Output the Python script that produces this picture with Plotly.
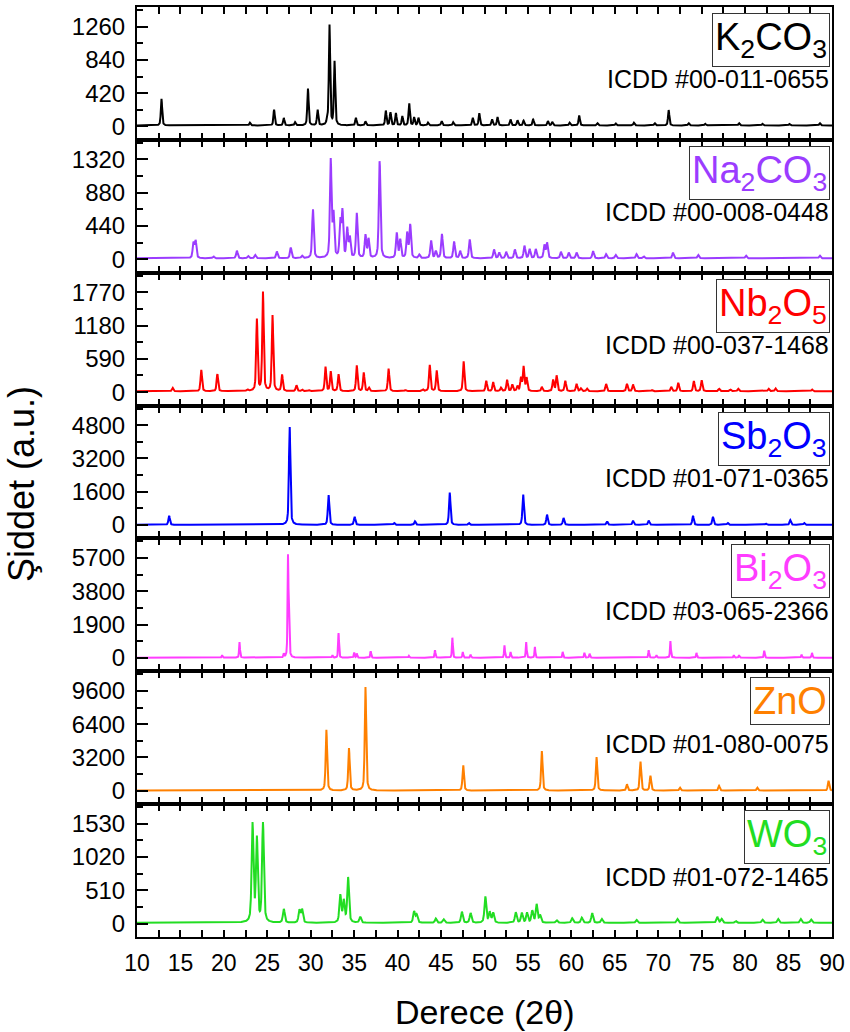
import numpy as np
import plotly.graph_objects as go
from plotly.subplots import make_subplots

# ---------------- data (peak positions in 2theta and peak heights) -------------
two_theta = np.round(np.arange(10, 90.0001, 0.02), 3)

names = ["K2CO3", "Na2CO3", "Nb2O5", "Sb2O3", "Bi2O3", "ZnO", "WO3"]
labels = ["K<sub>2</sub>CO<sub>3</sub>", "Na<sub>2</sub>CO<sub>3</sub>", "Nb<sub>2</sub>O<sub>5</sub>",
          "Sb<sub>2</sub>O<sub>3</sub>", "Bi<sub>2</sub>O<sub>3</sub>", "ZnO", "WO<sub>3</sub>"]
icdd = ["ICDD #00-011-0655", "ICDD #00-008-0448", "ICDD #00-037-1468", "ICDD #01-071-0365",
        "ICDD #03-065-2366", "ICDD #01-080-0075", "ICDD #01-072-1465"]
y_ticks = [[0, 420, 840, 1260], [0, 440, 880, 1320], [0, 590, 1180, 1770], [0, 1600, 3200, 4800],
           [0, 1900, 3800, 5700], [0, 3200, 6400, 9600], [0, 510, 1020, 1530]]
x_ticks = [10, 15, 20, 25, 30, 35, 40, 45, 50, 55, 60, 65, 70, 75, 80, 85, 90]

k2co3_pos = [12.82, 23.0, 25.78, 26.89, 28.2, 29.68, 30.79, 31.9, 32.16, 32.74, 35.2, 36.3, 38.64, 39.17,
             39.8, 40.54, 41.33, 41.9, 42.4, 43.5, 45.07, 46.4, 48.65, 49.4, 50.87, 51.5, 53.0, 53.8,
             54.5, 55.6, 57.3, 57.8, 59.8, 60.9, 63.0, 65.1, 67.2, 69.6, 71.2, 73.5, 75.4, 79.3, 82.0,
             85.1, 88.6]
k2co3_int = [335, 35, 200, 95, 40, 465, 195, 50, 1260, 800, 95, 50, 185, 165, 155, 115, 280, 100, 95, 35,
             55, 40, 95, 155, 75, 105, 75, 65, 60, 75, 55, 45, 35, 125, 28, 25, 35, 28, 195, 28, 20, 28,
             20, 18, 28]

na2co3_pos = [16.5, 16.75, 18.8, 21.5, 22.8, 23.6, 26.1, 27.7, 29.0, 30.25, 32.3, 32.62, 33.4, 33.65,
              34.2, 34.5, 35.3, 36.3, 36.65, 37.93, 39.9, 40.3, 41.1, 41.45, 42.5, 43.85, 44.4, 45.1,
              46.5, 47.2, 48.3, 51.1, 51.7, 52.5, 53.5, 54.6, 55.2, 55.9, 56.9, 57.2, 58.8, 59.7, 60.6,
              62.5, 64.0, 65.1, 67.5, 68.3, 71.7, 74.6, 80.1, 88.6]
na2co3_int = [200, 225, 25, 100, 30, 45, 90, 140, 30, 650, 1290, 560, 470, 600, 380, 260, 590, 300, 250,
              1290, 330, 240, 330, 440, 45, 235, 90, 320, 220, 95, 250, 115, 75, 85, 115, 165, 120, 120,
              170, 200, 85, 75, 75, 95, 55, 45, 55, 28, 75, 45, 35, 35]

nb2o5_pos = [14.1, 17.4, 19.25, 22.7, 23.8, 24.5, 25.6, 26.7, 28.35, 29.0, 29.8, 31.7, 32.3, 33.2, 35.3,
             36.1, 36.7, 38.96, 40.9, 42.9, 43.7, 44.5, 47.6, 50.2, 51.0, 51.9, 52.6, 53.2, 53.8, 54.2,
             54.5, 54.85, 56.6, 57.9, 58.3, 59.3, 60.6, 61.1, 61.8, 64.0, 66.4, 67.1, 69.3, 71.5, 72.3,
             74.1, 75.0, 77.0, 78.3, 79.2, 82.7, 83.5, 87.7]
nb2o5_int = [60, 380, 305, 30, 1270, 1750, 1340, 290, 105, 30, 20, 430, 350, 300, 455, 330, 60, 400, 20,
             30, 465, 365, 530, 185, 160, 60, 200, 115, 85, 230, 430, 230, 75, 200, 275, 185, 130, 50, 45,
             130, 130, 120, 20, 75, 150, 180, 195, 45, 30, 45, 45, 50, 30]

sb2o3_pos = [13.7, 27.57, 32.05, 35.05, 39.6, 42.0, 46.0, 48.2, 54.45, 57.2, 59.1, 64.1, 67.1, 68.9,
             74.0, 76.3, 78.0, 82.4, 85.2, 86.8]
sb2o3_int = [440, 4750, 1440, 390, 90, 170, 1550, 90, 1470, 490, 330, 170, 200, 200, 440, 380, 90, 60,
             235, 90]

bi2o3_pos = [19.8, 21.8, 26.9, 27.38, 27.5, 32.5, 33.2, 35.0, 35.3, 36.9, 41.3, 44.3, 46.3, 47.5, 48.4,
             52.3, 53.0, 54.8, 55.8, 59.0, 61.5, 62.1, 68.9, 69.8, 71.4, 74.4, 78.7, 79.3, 82.2, 86.5, 87.7]
bi2o3_int = [140, 890, 200, 5600, 2300, 140, 1400, 290, 230, 370, 105, 420, 1140, 330, 180, 700, 330, 890,
             610, 330, 275, 220, 420, 145, 950, 275, 145, 145, 390, 180, 275]

zno_pos = [31.8, 34.4, 36.3, 47.55, 56.6, 62.9, 66.4, 67.95, 69.1, 72.5, 77.0, 81.4, 89.6]
zno_int = [5850, 4080, 9950, 2440, 3800, 3230, 600, 2800, 1420, 280, 470, 280, 950]

wo3_pos = [23.3, 23.8, 24.5, 26.9, 28.7, 29.0, 33.4, 33.8, 34.3, 35.7, 41.9, 42.2, 44.4, 45.3, 47.4, 48.4,
           50.1, 50.6, 51.0, 53.6, 54.3, 54.9, 55.5, 56.0, 56.4, 58.3, 60.1, 61.2, 62.4, 63.5, 67.5, 72.2,
           76.8, 77.3, 78.9, 82.0, 83.8, 86.4, 87.6]
wo3_int = [1500, 1270, 1520, 210, 190, 200, 420, 330, 690, 90, 170, 120, 65, 55, 170, 150, 400, 160, 150,
           160, 150, 150, 180, 280, 110, 40, 70, 80, 150, 60, 45, 60, 90, 60, 30, 50, 60, 60, 50]

peak_pos = [k2co3_pos, na2co3_pos, nb2o5_pos, sb2o3_pos, bi2o3_pos, zno_pos, wo3_pos]
peak_int = [k2co3_int, na2co3_int, nb2o5_int, sb2o3_int, bi2o3_int, zno_int, wo3_int]
baselines = [12, 12, 15, 5, 8, 10, 10]

# ---------------- styles ----------------
colors = ["#000000", "#9B3CFF", "#FF0000", "#0000FF", "#FF3CFF", "#FF8000", "#22DD22"]
label_colors = ["#000000", "#9B3CFF", "#FF0000", "#0000FF", "#FF3CFF", "#FF8000", "#22DD22"]
fwhm = [0.18, 0.22, 0.2, 0.2, 0.12, 0.2, 0.25]


def profile(pos, inten, w, base):
    y = np.full_like(two_theta, float(base))
    for p, h in zip(pos, inten):
        d = (two_theta - p) / w
        y += h * (0.5 * np.exp(-4 * np.log(2) * d ** 2) + 0.5 / (1 + 4 * d ** 2))
    return y


n = len(names)
fig = make_subplots(rows=n, cols=1, shared_xaxes=True, vertical_spacing=0)

FONT = "Liberation Sans, Arial, sans-serif"
annotations = []
for i in range(n):
    y = profile(peak_pos[i], peak_int[i], fwhm[i], baselines[i])
    fig.add_trace(go.Scatter(x=two_theta, y=y, mode="lines", line=dict(color=colors[i], width=2),
                             showlegend=False, hoverinfo="skip"), row=i + 1, col=1)
    step = y_ticks[i][1]
    top = 1 - i / n
    bot = 1 - (i + 1) / n
    yname = "yaxis" if i == 0 else f"yaxis{i + 1}"
    xname = "xaxis" if i == 0 else f"xaxis{i + 1}"
    fig.layout[yname].update(
        domain=[bot, top], range=[-0.405 * step, 3.59 * step],
        tickvals=y_ticks[i], ticktext=[str(v) for v in y_ticks[i]],
        ticks="inside", ticklen=11, tickwidth=2, tickcolor="black",
        minor=dict(tickvals=[step * k + step / 2 for k in range(4)], ticks="inside", ticklen=6,
                   tickwidth=2, tickcolor="black"),
        showline=True, linewidth=2, linecolor="black", mirror=True,
        showgrid=False, zeroline=False, ticklabelstandoff=5,
        tickfont=dict(family=FONT, size=24, color="black"),
    )
    fig.layout[xname].update(
        range=[10, 90], tickvals=x_ticks, ticktext=[str(v) for v in x_ticks],
        ticks="inside", ticklen=7, tickwidth=2, tickcolor="black",
        minor=dict(dtick=2.5, tick0=10, ticks="inside", ticklen=7, tickwidth=2, tickcolor="black"),
        showline=True, linewidth=2, linecolor="black", mirror="ticks",
        showgrid=False, zeroline=False, showticklabels=(i == n - 1), ticklabelstandoff=4,
        tickfont=dict(family=FONT, size=23, color="black"),
    )
    yref = "y domain" if i == 0 else f"y{i + 1} domain"
    annotations.append(dict(xref="paper", yref=yref, x=0.997, y=0.955, xanchor="right", yanchor="top",
                            text=labels[i], showarrow=False,
                            font=dict(family=FONT, size=38, color=label_colors[i]),
                            bordercolor="#333333", borderwidth=1, borderpad=2))
    annotations.append(dict(xref="paper", yref=yref, x=0.998, y=0.455, xanchor="right", yanchor="middle",
                            text=icdd[i], showarrow=False,
                            font=dict(family=FONT, size=25, color="black")))

annotations.append(dict(xref="paper", yref="paper", x=-0.167, y=0.487, xanchor="center", yanchor="middle",
                        text="Şiddet (a.u.)", textangle=-90, showarrow=False,
                        font=dict(family=FONT, size=36, color="black")))
annotations.append(dict(xref="paper", yref="paper", x=0.5, y=-0.0805, xanchor="center", yanchor="middle",
                        text="Derece (2θ)", showarrow=False,
                        font=dict(family=FONT, size=34, color="black")))

fig.update_layout(width=850, height=1032, margin=dict(l=137, r=14, t=5, b=95),
                  paper_bgcolor="white", plot_bgcolor="white", annotations=annotations,
                  font=dict(family=FONT, color="black"))
fig.write_html("out.html", config={"displayModeBar": False},
               post_script="document.body.style.margin='0px';")
